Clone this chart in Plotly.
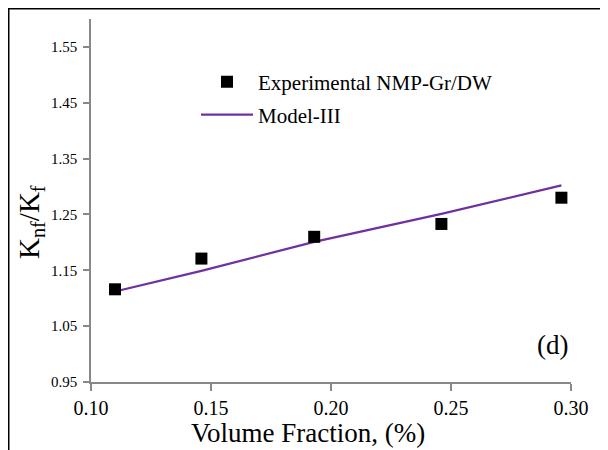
import plotly.graph_objects as go

exp_x = [0.110, 0.146, 0.193, 0.246, 0.296]
exp_y = [1.116, 1.171, 1.210, 1.233, 1.280]
model_x = [0.110, 0.146, 0.193, 0.246, 0.296]
model_y = [1.112, 1.149, 1.201, 1.251, 1.302]
x_ticks = [0.10, 0.15, 0.20, 0.25, 0.30]
y_ticks = [0.95, 1.05, 1.15, 1.25, 1.35, 1.45, 1.55]

FONT = "Liberation Serif, Times New Roman, serif"
AX = "#888888"
PURPLE = "#7030A0"
OFF = 8  # page body margin

fig = go.Figure()
fig.add_trace(go.Scatter(x=model_x, y=model_y, mode="lines", name="Model-III",
                         line=dict(color=PURPLE, width=2.2), showlegend=False))
fig.add_trace(go.Scatter(x=exp_x, y=exp_y, mode="markers", name="Experimental NMP-Gr/DW",
                         marker=dict(symbol="square", color="black", size=12), showlegend=False))

# legend entries (separate legends to match row spacing)
fig.add_trace(go.Scatter(x=[None], y=[None], mode="markers", name="Experimental NMP-Gr/DW",
                         marker=dict(symbol="square", color="black", size=12), legend="legend"))
fig.add_trace(go.Scatter(x=[None], y=[None], mode="lines", name="Model-III",
                         line=dict(color=PURPLE, width=2.2), legend="legend2"))

W, H = 608 - OFF, 450 - OFF
L, R, T, B = 91 - OFF, 37, 19 - OFF, 68
pw, ph = W - L - R, H - T - B


def px_x(p):
    return (p - OFF - L) / pw


def px_y(p):
    return 1 - (p - OFF - T) / ph


leg_common = dict(xanchor="left", yanchor="middle", bgcolor="rgba(0,0,0,0)",
                  font=dict(family=FONT, size=21, color="black"), itemwidth=52)

fig.update_layout(
    width=W, height=H,
    margin=dict(l=L, r=R, t=T, b=B),
    paper_bgcolor="white", plot_bgcolor="white",
    font=dict(family=FONT, color="black"),
    showlegend=True,
    legend=dict(x=px_x(196), y=px_y(82), **leg_common),
    legend2=dict(x=px_x(196), y=px_y(115), **leg_common),
    xaxis=dict(range=[0.10, 0.30], tickvals=x_ticks, ticktext=[f"{v:.2f}" for v in x_ticks],
               showgrid=False, zeroline=False, showline=True, linecolor=AX, linewidth=1.5,
               ticks="outside", tickcolor=AX, ticklen=7, tickwidth=1.5,
               tickfont=dict(family=FONT, size=20, color="black")),
    yaxis=dict(range=[0.95, 1.60], tickvals=y_ticks, ticktext=[f"{v:.2f}" for v in y_ticks],
               showgrid=False, zeroline=False, showline=True, linecolor=AX, linewidth=1.5,
               ticks="outside", tickcolor=AX, ticklen=6, tickwidth=1.5, ticklabelstandoff=3,
               tickfont=dict(family=FONT, size=15, color="black")),
    annotations=[
        dict(text="(d)", xref="paper", yref="paper", x=px_x(570), y=px_y(345),
             xanchor="right", yanchor="middle", showarrow=False,
             font=dict(family=FONT, size=27, color="black")),
        dict(text="Volume Fraction, (%)", xref="paper", yref="paper", x=px_x(308), y=px_y(433),
             xanchor="center", yanchor="middle", showarrow=False,
             font=dict(family=FONT, size=27, color="black")),
        dict(text="K<sub>nf</sub>/K<sub>f</sub>", xref="paper", yref="paper", x=px_x(31), y=px_y(222),
             xanchor="center", yanchor="middle", showarrow=False, textangle=-90,
             font=dict(family=FONT, size=29, color="black")),
    ],
    shapes=[
        dict(type="line", xref="paper", yref="paper", x0=-L / pw, x1=(W + 5 - L) / pw,
             y0=1 + (T - 0.5) / ph, y1=1 + (T - 0.5) / ph, line=dict(color="black", width=2)),
        dict(type="line", xref="paper", yref="paper", x0=-(L - 0.5) / pw, x1=-(L - 0.5) / pw,
             y0=1 + T / ph, y1=-(B + 5) / ph, line=dict(color="black", width=2)),
    ],
)
fig.write_html("out.html")
